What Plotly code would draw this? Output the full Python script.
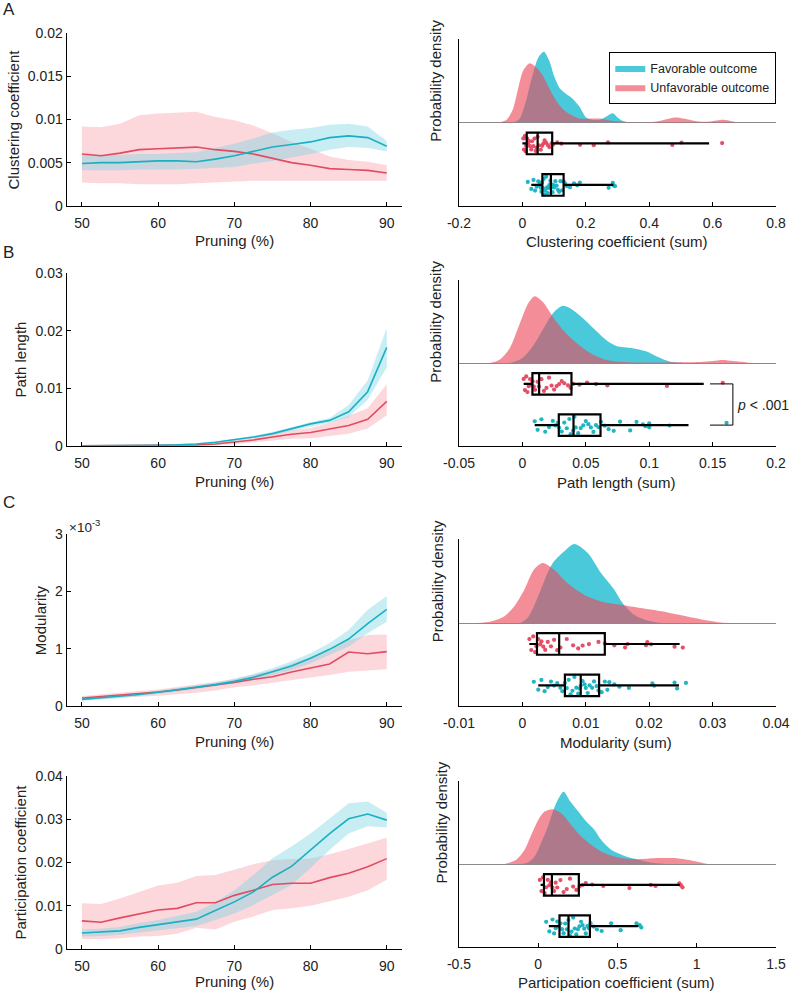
import plotly.graph_objects as go

# ---------------- data ----------------
pruning = [50, 52.5, 55, 57.5, 60, 62.5, 65, 67.5, 70, 72.5, 75, 77.5, 80, 82.5, 85, 87.5, 90]

clus_red = [0.0060, 0.0058, 0.0061, 0.0065, 0.0066, 0.0067, 0.0068, 0.0065, 0.0063, 0.0060, 0.0055, 0.0050, 0.0047, 0.0043, 0.0042, 0.0041, 0.0038]
clus_red_hi = [0.0092, 0.0091, 0.0095, 0.0105, 0.0107, 0.0108, 0.0109, 0.0103, 0.0099, 0.0093, 0.0084, 0.0074, 0.0066, 0.0057, 0.0053, 0.0051, 0.0047]
clus_red_lo = [0.0027, 0.0026, 0.0026, 0.0025, 0.0025, 0.0025, 0.0026, 0.0027, 0.0028, 0.0029, 0.0029, 0.0029, 0.0029, 0.0029, 0.0029, 0.0029, 0.0029]
clus_cyan = [0.0049, 0.0050, 0.0050, 0.0051, 0.0052, 0.0052, 0.0051, 0.0054, 0.0058, 0.0063, 0.0068, 0.0071, 0.0074, 0.0079, 0.0081, 0.0079, 0.0069]
clus_cyan_hi = [0.0059, 0.0059, 0.0059, 0.0060, 0.0060, 0.0061, 0.0062, 0.0067, 0.0072, 0.0078, 0.0085, 0.0088, 0.0090, 0.0094, 0.0095, 0.0092, 0.0075]
clus_cyan_lo = [0.0041, 0.0041, 0.0041, 0.0042, 0.0042, 0.0042, 0.0043, 0.0044, 0.0045, 0.0049, 0.0052, 0.0056, 0.0060, 0.0065, 0.0068, 0.0067, 0.0063]

path_cyan = [0, 0, 0.00002, 0.00004, 0.00008, 0.00015, 0.0003, 0.0006, 0.0010, 0.0015, 0.0021, 0.0030, 0.0038, 0.0044, 0.0059, 0.0094, 0.0171]
path_cyan_hi = [0, 0, 0.00003, 0.00005, 0.0001, 0.0002, 0.0004, 0.0007, 0.0012, 0.0017, 0.0024, 0.0033, 0.0041, 0.0048, 0.0071, 0.0114, 0.0205]
path_cyan_lo = [0, 0, 0.00001, 0.00003, 0.00006, 0.0001, 0.0002, 0.0005, 0.0008, 0.0013, 0.0018, 0.0026, 0.0033, 0.0040, 0.0050, 0.0080, 0.0136]
path_red = [0, 0, 0, 0.00001, 0.00003, 0.00006, 0.0001, 0.0003, 0.0006, 0.0010, 0.0015, 0.0020, 0.0023, 0.0029, 0.0035, 0.0046, 0.0077]
path_red_hi = [0, 0, 0.00001, 0.00002, 0.00005, 0.0001, 0.0002, 0.0005, 0.0009, 0.0014, 0.0020, 0.0027, 0.0031, 0.0040, 0.0052, 0.0065, 0.0107]
path_red_lo = [0, 0, 0, 0, 0.00001, 0.00003, 0.00005, 0.0001, 0.0003, 0.0006, 0.0009, 0.0012, 0.0013, 0.0017, 0.0021, 0.0030, 0.0053]

mod_cyan = [0.116e-3, 0.14e-3, 0.163e-3, 0.2e-3, 0.24e-3, 0.28e-3, 0.326e-3, 0.373e-3, 0.43e-3, 0.5e-3, 0.6e-3, 0.7e-3, 0.833e-3, 0.99e-3, 1.17e-3, 1.44e-3, 1.69e-3]
mod_cyan_hi = [0.14e-3, 0.165e-3, 0.19e-3, 0.225e-3, 0.265e-3, 0.31e-3, 0.355e-3, 0.41e-3, 0.48e-3, 0.56e-3, 0.66e-3, 0.78e-3, 0.92e-3, 1.1e-3, 1.33e-3, 1.68e-3, 1.92e-3]
mod_cyan_lo = [0.093e-3, 0.115e-3, 0.14e-3, 0.175e-3, 0.21e-3, 0.25e-3, 0.295e-3, 0.34e-3, 0.396e-3, 0.45e-3, 0.54e-3, 0.63e-3, 0.745e-3, 0.89e-3, 1.04e-3, 1.27e-3, 1.47e-3]
mod_red = [0.14e-3, 0.163e-3, 0.186e-3, 0.21e-3, 0.245e-3, 0.28e-3, 0.32e-3, 0.365e-3, 0.41e-3, 0.466e-3, 0.51e-3, 0.594e-3, 0.664e-3, 0.734e-3, 0.944e-3, 0.914e-3, 0.95e-3]
mod_red_hi = [0.175e-3, 0.2e-3, 0.23e-3, 0.26e-3, 0.29e-3, 0.33e-3, 0.37e-3, 0.42e-3, 0.466e-3, 0.55e-3, 0.63e-3, 0.74e-3, 0.86e-3, 0.98e-3, 1.15e-3, 1.24e-3, 1.25e-3]
mod_red_lo = [0.105e-3, 0.12e-3, 0.14e-3, 0.16e-3, 0.18e-3, 0.2e-3, 0.23e-3, 0.27e-3, 0.326e-3, 0.36e-3, 0.41e-3, 0.46e-3, 0.5e-3, 0.54e-3, 0.6e-3, 0.62e-3, 0.64e-3]

part_red = [0.0065, 0.0062, 0.0072, 0.0081, 0.0090, 0.0094, 0.0107, 0.0107, 0.0124, 0.0136, 0.0149, 0.0152, 0.0152, 0.0165, 0.0175, 0.0190, 0.0209]
part_red_hi = [0.0106, 0.0104, 0.0117, 0.0132, 0.0147, 0.0153, 0.0169, 0.0171, 0.0183, 0.0196, 0.0205, 0.0208, 0.0209, 0.0219, 0.0231, 0.0244, 0.0257]
part_red_lo = [0.0023, 0.0023, 0.0025, 0.0029, 0.0030, 0.0035, 0.0049, 0.0045, 0.0063, 0.0075, 0.0090, 0.0094, 0.0100, 0.0110, 0.0121, 0.0136, 0.0160]
part_cyan = [0.0037, 0.0039, 0.0042, 0.0050, 0.0056, 0.0062, 0.0069, 0.0089, 0.0109, 0.0132, 0.0166, 0.0191, 0.0229, 0.0267, 0.0301, 0.0312, 0.0298]
part_cyan_hi = [0.0045, 0.0047, 0.0051, 0.0060, 0.0067, 0.0076, 0.0086, 0.0108, 0.0136, 0.0171, 0.0210, 0.0237, 0.0267, 0.0302, 0.0337, 0.0341, 0.0315]
part_cyan_lo = [0.0029, 0.0030, 0.0033, 0.0038, 0.0044, 0.0048, 0.0053, 0.0067, 0.0082, 0.0102, 0.0125, 0.0148, 0.0187, 0.0229, 0.0267, 0.0284, 0.0281]

# density curves (x, relative density height)
dA_cyan_x = [-0.03, -0.01, 0.01, 0.03, 0.05, 0.068, 0.085, 0.1, 0.118, 0.135, 0.15, 0.165, 0.18, 0.2, 0.22, 0.245, 0.265, 0.285, 0.3, 0.315, 0.335]
dA_cyan_y = [0, 10, 60, 135, 195, 213, 185, 140, 103, 88, 78, 65, 48, 16, 8, 8, 18, 28, 15, 5, 0]
dA_red_x = [-0.072, -0.05, -0.03, -0.014, 0.002, 0.023, 0.044, 0.065, 0.086, 0.107, 0.128, 0.15, 0.18, 0.213, 0.244, 0.276, 0.318, 0.37, 0.423, 0.455, 0.481, 0.507, 0.55, 0.58, 0.613, 0.634, 0.66, 0.686]
dA_red_y = [0, 8, 40, 100, 155, 178, 165, 140, 100, 65, 40, 25, 12, 12, 12, 6, 2, 0, 3, 10, 15, 12, 4, 2, 6, 8, 4, 0]

dB_cyan_x = [-0.01, 0.0, 0.008, 0.016, 0.024, 0.032, 0.04, 0.048, 0.056, 0.066, 0.074, 0.087, 0.098, 0.106, 0.116, 0.124, 0.135]
dB_cyan_y = [0, 15, 50, 100, 150, 173, 160, 135, 105, 70, 52, 45, 35, 20, 5, 1, 0]
dB_red_x = [-0.026, -0.018, -0.01, -0.002, 0.0045, 0.0097, 0.016, 0.024, 0.032, 0.04, 0.048, 0.056, 0.064, 0.074, 0.087, 0.114, 0.14, 0.15, 0.158, 0.166, 0.177, 0.182]
dB_red_y = [0, 10, 45, 120, 180, 202, 185, 140, 100, 70, 45, 25, 12, 5, 2, 2, 3, 6, 9, 6, 2, 0]

dC_cyan_x = [-0.0003, 0.0008, 0.0018, 0.0029, 0.0042, 0.005, 0.0066, 0.0082, 0.0103, 0.0124, 0.0145, 0.0158, 0.0176, 0.0197, 0.022]
dC_cyan_y = [0, 15, 50, 100, 160, 185, 215, 237, 210, 150, 100, 60, 25, 8, 0]
dC_red_x = [-0.0071, -0.005, -0.0029, -0.0013, 0.0003, 0.0018, 0.0032, 0.005, 0.0071, 0.0097, 0.0124, 0.0155, 0.0187, 0.0229, 0.026, 0.0292, 0.0313, 0.0334]
dC_red_y = [0, 5, 20, 50, 100, 160, 180, 160, 120, 85, 65, 55, 45, 32, 20, 8, 2, 0]

dD_cyan_x = [-0.107, -0.065, -0.023, 0.019, 0.061, 0.113, 0.16, 0.2, 0.25, 0.3, 0.355, 0.397, 0.46, 0.565, 0.65, 0.733, 0.82]
dD_cyan_y = [0, 5, 23, 65, 113, 183, 218, 190, 160, 130, 103, 73, 43, 21, 11, 3, 0]
dD_red_x = [-0.212, -0.139, -0.086, -0.044, 0.0, 0.04, 0.092, 0.145, 0.208, 0.271, 0.334, 0.397, 0.48, 0.565, 0.65, 0.754, 0.86, 0.964, 1.027, 1.07]
dD_red_y = [0, 13, 43, 88, 133, 158, 165, 153, 118, 83, 58, 38, 23, 16, 15, 18, 18, 11, 5, 0]

# individual subject values (sum over pruning levels)
ptsA_red = [0.003, 0.005, 0.008, 0.010, 0.012, 0.015, 0.018, 0.020, 0.024, 0.028, 0.030, 0.035, 0.038, 0.042, 0.045, 0.048,
            0.052, 0.058, 0.062, 0.066, 0.070, 0.075, 0.080, 0.085, 0.092, 0.097, 0.11, 0.123, 0.182, 0.225, 0.27, 0.473, 0.502, 0.63]
ptsA_cyan = [0.017, 0.028, 0.035, 0.040, 0.045, 0.050, 0.052, 0.055, 0.058, 0.060, 0.062, 0.065, 0.067, 0.070, 0.072, 0.075,
             0.078, 0.080, 0.082, 0.085, 0.088, 0.090, 0.092, 0.095, 0.098, 0.100, 0.104, 0.108, 0.112, 0.116, 0.120, 0.125,
             0.130, 0.135, 0.140, 0.150, 0.163, 0.173, 0.181, 0.272, 0.285, 0.287, 0.292]
ptsB_red = [0.001, 0.002, 0.003, 0.004, 0.005, 0.006, 0.007, 0.008, 0.009, 0.010, 0.012, 0.013, 0.015, 0.017, 0.019, 0.021,
            0.023, 0.025, 0.027, 0.029, 0.031, 0.033, 0.036, 0.038, 0.040, 0.045, 0.051, 0.058, 0.067, 0.114, 0.158]
ptsB_cyan = [0.0097, 0.012, 0.015, 0.018, 0.021, 0.024, 0.026, 0.028, 0.029, 0.031, 0.033, 0.035, 0.037, 0.038, 0.040, 0.041,
             0.042, 0.044, 0.046, 0.048, 0.050, 0.052, 0.054, 0.056, 0.058, 0.060, 0.062, 0.065, 0.068, 0.072, 0.077, 0.085,
             0.090, 0.095, 0.097, 0.100, 0.100, 0.116, 0.161]
ptsC_red = [0.0011, 0.0014, 0.0017, 0.0020, 0.0022, 0.0025, 0.0028, 0.0030, 0.0033, 0.0036, 0.0040, 0.0045, 0.0050, 0.0055,
            0.0060, 0.0070, 0.0080, 0.0088, 0.0095, 0.0105, 0.0120, 0.0130, 0.0145, 0.0162, 0.0166, 0.0195, 0.0197, 0.0203,
            0.0240, 0.0253]
ptsC_cyan = [0.0018, 0.0025, 0.0030, 0.0035, 0.0040, 0.0045, 0.0050, 0.0055, 0.0060, 0.0063, 0.0067, 0.0070, 0.0073, 0.0076,
             0.0079, 0.0082, 0.0085, 0.0088, 0.0090, 0.0092, 0.0095, 0.0098, 0.0100, 0.0103, 0.0106, 0.0110, 0.0113, 0.0117,
             0.0120, 0.0125, 0.0130, 0.0134, 0.0137, 0.0145, 0.0153, 0.0168, 0.0205, 0.0208, 0.0240, 0.0244, 0.0258]
ptsD_red = [0.01, 0.02, 0.03, 0.04, 0.05, 0.06, 0.07, 0.08, 0.09, 0.10, 0.11, 0.12, 0.14, 0.16, 0.18, 0.20, 0.22, 0.24, 0.26,
            0.28, 0.30, 0.34, 0.41, 0.575, 0.71, 0.74, 0.89, 0.90, 0.91]
ptsD_cyan = [0.05, 0.07, 0.09, 0.10, 0.11, 0.12, 0.13, 0.14, 0.15, 0.16, 0.17, 0.18, 0.19, 0.20, 0.21, 0.22, 0.23, 0.24, 0.25,
             0.26, 0.27, 0.28, 0.29, 0.30, 0.31, 0.32, 0.33, 0.35, 0.37, 0.40, 0.46, 0.52, 0.62, 0.64, 0.65]

# box statistics [lowerfence, q1, median, q3, upperfence]
boxA_red = [0.0, 0.0137, 0.048, 0.094, 0.589]
boxA_cyan = [0.028, 0.063, 0.09, 0.13, 0.287]
boxB_red = [0.001, 0.0079, 0.0132, 0.0387, 0.143]
boxB_cyan = [0.0097, 0.0287, 0.0403, 0.0616, 0.131]
boxC_red = [0.0011, 0.0023, 0.0058, 0.013, 0.0248]
boxC_cyan = [0.0025, 0.0067, 0.0092, 0.0121, 0.0247]
boxD_red = [0.015, 0.036, 0.086, 0.256, 0.893]
boxD_cyan = [0.067, 0.134, 0.191, 0.326, 0.632]

left_ylabels = ["Clustering coefficient", "Path length", "Modularity", "Participation coefficient"]
right_xlabels = ["Clustering coefficient (sum)", "Path length (sum)", "Modularity (sum)", "Participation coefficient (sum)"]
left_yticks = [[0, 0.005, 0.01, 0.015, 0.02], [0, 0.01, 0.02, 0.03], [0, 0.001, 0.002, 0.003], [0, 0.01, 0.02, 0.03, 0.04]]
left_yticktext = [["0", "0.005", "0.01", "0.015", "0.02"], ["0", "0.01", "0.02", "0.03"], ["0", "1", "2", "3"],
                  ["0", "0.01", "0.02", "0.03", "0.04"]]
right_xticks = [[-0.2, 0, 0.2, 0.4, 0.6, 0.8], [-0.05, 0, 0.05, 0.1, 0.15, 0.2], [-0.01, 0, 0.01, 0.02, 0.03, 0.04],
                [-0.5, 0, 0.5, 1, 1.5]]
right_xticktext = [["-0.2", "0", "0.2", "0.4", "0.6", "0.8"], ["-0.05", "0", "0.05", "0.1", "0.15", "0.2"],
                   ["-0.01", "0", "0.01", "0.02", "0.03", "0.04"], ["-0.5", "0", "0.5", "1", "1.5"]]
pruning_ticks = [50, 60, 70, 80, 90]
panel_letters = ["A", "B", "C"]

# ---------------- style ----------------
W, H = 790, 993
FONT = "Liberation Sans, Arial, Helvetica, sans-serif"
TXT = "#222222"
RED = "rgb(226,76,98)"
CYAN = "rgb(26,176,194)"
RED_BAND = "rgba(246,150,162,0.38)"
CYAN_BAND = "rgba(110,210,226,0.38)"
RED_DENS = "rgba(236,72,90,0.62)"
CYAN_DENS = "rgba(48,194,212,0.88)"
RED_PT = "rgb(228,70,95)"
CYAN_PT = "rgb(22,176,192)"


def xd(a, b):
    return [a / W, b / W]


def yd(top, bottom):
    return [1 - bottom / H, 1 - top / H]


left_dom = [(33.3, 205.7), (273.3, 445.7), (534.3, 706.0), (776.0, 949.0)]
right_dom = [(39.0, 122.7, 205.7), (280.0, 363.3, 445.7), (539.3, 623.3, 706.0), (780.7, 864.3, 946.7)]
left_ranges = [[0, 0.02], [0, 0.03], [0, 0.003], [0, 0.04]]
right_ranges = [[-0.2, 0.8], [-0.05, 0.2], [-0.01, 0.04], [-0.5, 1.5]]

left_series = [
    (clus_red, clus_red_lo, clus_red_hi, clus_cyan, clus_cyan_lo, clus_cyan_hi),
    (path_red, path_red_lo, path_red_hi, path_cyan, path_cyan_lo, path_cyan_hi),
    (mod_red, mod_red_lo, mod_red_hi, mod_cyan, mod_cyan_lo, mod_cyan_hi),
    (part_red, part_red_lo, part_red_hi, part_cyan, part_cyan_lo, part_cyan_hi),
]
dens = [
    (dA_cyan_x, dA_cyan_y, dA_red_x, dA_red_y),
    (dB_cyan_x, dB_cyan_y, dB_red_x, dB_red_y),
    (dC_cyan_x, dC_cyan_y, dC_red_x, dC_red_y),
    (dD_cyan_x, dD_cyan_y, dD_red_x, dD_red_y),
]
pts = [(ptsA_red, ptsA_cyan), (ptsB_red, ptsB_cyan), (ptsC_red, ptsC_cyan), (ptsD_red, ptsD_cyan)]
boxes = [(boxA_red, boxA_cyan), (boxB_red, boxB_cyan), (boxC_red, boxC_cyan), (boxD_red, boxD_cyan)]

RED_POS, CYAN_POS, BOX_W = 0.75, 0.25, 0.26

fig = go.Figure()
layout = dict(
    width=W, height=H, margin=dict(l=0, r=0, t=0, b=0, autoexpand=False),
    paper_bgcolor="white", plot_bgcolor="white",
    font=dict(family=FONT, size=14, color=TXT),
    showlegend=True, boxmode="overlay",
    legend=dict(x=609 / W, y=1 - 52 / H, xanchor="left", yanchor="top", bgcolor="white",
                bordercolor="black", borderwidth=1.3, font=dict(size=12.5, color=TXT),
                itemwidth=30, tracegroupgap=0, traceorder="normal"),
)
annotations = []
shapes = []

axis_common = dict(showline=True, linecolor="black", linewidth=1.2, ticks="inside", ticklen=4,
                   tickwidth=1, tickcolor="black", showgrid=False, zeroline=False, automargin=False,
                   tickfont=dict(size=14, color=TXT, family=FONT))

for i in range(4):
    lx, ly = f"x{i + 1}", f"y{i + 1}"
    rx, rby, rdy = f"x{i + 5}", f"y{i + 5}", f"y{i + 9}"
    rm, rlo, rhi, cm, clo, chi = left_series[i]

    # left: bands then mean lines
    for lo, hi, col in ((rlo, rhi, RED_BAND), (clo, chi, CYAN_BAND)):
        fig.add_trace(go.Scatter(x=pruning, y=lo, mode="lines", line=dict(width=0), xaxis=lx, yaxis=ly,
                                 showlegend=False, hoverinfo="skip"))
        fig.add_trace(go.Scatter(x=pruning, y=hi, mode="lines", line=dict(width=0), fill="tonexty",
                                 fillcolor=col, xaxis=lx, yaxis=ly, showlegend=False, hoverinfo="skip"))
    fig.add_trace(go.Scatter(x=pruning, y=rm, mode="lines", line=dict(color=RED, width=1.6),
                             xaxis=lx, yaxis=ly, showlegend=False))
    fig.add_trace(go.Scatter(x=pruning, y=cm, mode="lines", line=dict(color=CYAN, width=1.6),
                             xaxis=lx, yaxis=ly, showlegend=False))

    # right: densities
    cx, cy, qx, qy = dens[i]
    fig.add_trace(go.Scatter(x=cx, y=cy, mode="lines", line=dict(width=0, shape="spline", smoothing=0.8),
                             fill="tozeroy", fillcolor=CYAN_DENS, name="Favorable outcome",
                             showlegend=(i == 0), xaxis=rx, yaxis=rdy))
    fig.add_trace(go.Scatter(x=qx, y=qy, mode="lines", line=dict(width=0, shape="spline", smoothing=0.8),
                             fill="tozeroy", fillcolor=RED_DENS, name="Unfavorable outcome",
                             showlegend=(i == 0), xaxis=rx, yaxis=rdy))

    # jittered points (library jitter), invisible box outline
    for vals, pos, col in ((pts[i][0], RED_POS, RED_PT), (pts[i][1], CYAN_POS, CYAN_PT)):
        fig.add_trace(go.Box(x=vals, y0=pos, orientation="h", boxpoints="all", jitter=0.9, pointpos=0,
                             width=BOX_W, line=dict(color="rgba(0,0,0,0)", width=0),
                             fillcolor="rgba(0,0,0,0)", whiskerwidth=0,
                             marker=dict(color=col, size=4.2, opacity=0.95),
                             xaxis=rx, yaxis=rby, showlegend=False, hoverinfo="x"))
    # boxes from statistics
    for st, pos in ((boxes[i][0], RED_POS), (boxes[i][1], CYAN_POS)):
        fig.add_trace(go.Box(y=[pos], lowerfence=[st[0]], q1=[st[1]], median=[st[2]], q3=[st[3]],
                             upperfence=[st[4]], orientation="h", width=BOX_W, whiskerwidth=0,
                             boxpoints=False, line=dict(color="black", width=2.2),
                             fillcolor="rgba(0,0,0,0)", xaxis=rx, yaxis=rby, showlegend=False))

    ltop, lbot = left_dom[i]
    rtop, rbase, rbot = right_dom[i]

    layout[f"xaxis{i + 1}"] = dict(axis_common, domain=xd(66.7, 402), range=[48, 92], anchor=ly,
                                   tickvals=pruning_ticks, ticktext=[str(v) for v in pruning_ticks],
                                   ticklabelstandoff=4)
    layout[f"yaxis{i + 1}"] = dict(axis_common, domain=yd(ltop, lbot), range=left_ranges[i], anchor=lx,
                                   tickvals=left_yticks[i], ticktext=left_yticktext[i])
    layout[f"xaxis{i + 5}"] = dict(axis_common, domain=xd(459, 776), range=right_ranges[i], anchor=rby,
                                   tickvals=right_xticks[i], ticktext=right_xticktext[i],
                                   ticklabelstandoff=4)
    layout[f"yaxis{i + 5}"] = dict(showline=True, linecolor="black", linewidth=1.2, ticks="",
                                   showticklabels=False, showgrid=False, zeroline=False, automargin=False,
                                   domain=yd(rbase, rbot), range=[0, 1], anchor=rx)
    layout[f"yaxis{i + 9}"] = dict(showline=True, linecolor="black", linewidth=1.2, ticks="",
                                   showticklabels=False, showgrid=False, zeroline=True, automargin=False,
                                   zerolinecolor="#8a8a8a", zerolinewidth=1,
                                   domain=yd(rtop, rbase), range=[-0.6, 251], anchor=rx)

    # axis titles
    lxc = [13, 20, 40, 20][i]
    annotations.append(dict(text=left_ylabels[i], x=lxc / W, y=1 - (ltop + lbot) / 2 / H, xref="paper",
                            yref="paper", showarrow=False, textangle=-90, font=dict(size=15, color=TXT),
                            xanchor="center", yanchor="middle"))
    ty = [240, 481, 741, 981][i]
    annotations.append(dict(text="Pruning (%)", x=(82 + 387) / 2 / W, y=1 - ty / H, xref="paper", yref="paper",
                            showarrow=False, font=dict(size=15, color=TXT), xanchor="center", yanchor="middle"))
    annotations.append(dict(text=right_xlabels[i], x=616 / W, y=1 - (ty + 1) / H, xref="paper", yref="paper",
                            showarrow=False, font=dict(size=15, color=TXT), xanchor="center", yanchor="middle"))
    rxc = [436, 436, 437, 441][i]
    annotations.append(dict(text="Probability density", x=rxc / W, y=1 - (rtop + rbase) / 2 / H, xref="paper",
                            yref="paper", showarrow=False, textangle=-90, font=dict(size=15, color=TXT),
                            xanchor="center", yanchor="middle"))

# panel letters
for letter, py in zip(panel_letters, [10, 252, 503]):
    annotations.append(dict(text=letter, x=1 / W, y=1 - py / H, xref="paper", yref="paper", showarrow=False,
                            font=dict(size=17, color=TXT), xanchor="left", yanchor="middle"))

# x10^-3 exponent label
annotations.append(dict(text="\u00d710<sup>-3</sup>", x=67 / W, y=1 - 526 / H, xref="paper", yref="paper",
                        showarrow=False, font=dict(size=13.5, color=TXT), xanchor="left", yanchor="middle"))

# significance bracket in panel B
shapes.append(dict(type="path", xref="x6", yref="y6",
                   path=f"M 0.148,{RED_POS} L 0.166,{RED_POS} L 0.166,{CYAN_POS} L 0.148,{CYAN_POS}",
                   line=dict(color="black", width=1)))
annotations.append(dict(text="<i>p</i> < .001", x=0.1678, y=(RED_POS + CYAN_POS) / 2, xref="x6", yref="y6",
                        showarrow=False, font=dict(size=14, color=TXT), xanchor="left", yanchor="middle"))

layout["annotations"] = annotations
layout["shapes"] = shapes
fig.update_layout(**layout)
fig.write_html("out.html", config={"displayModeBar": False},
               post_script="document.body.style.margin='0px';document.body.style.padding='0px';")
